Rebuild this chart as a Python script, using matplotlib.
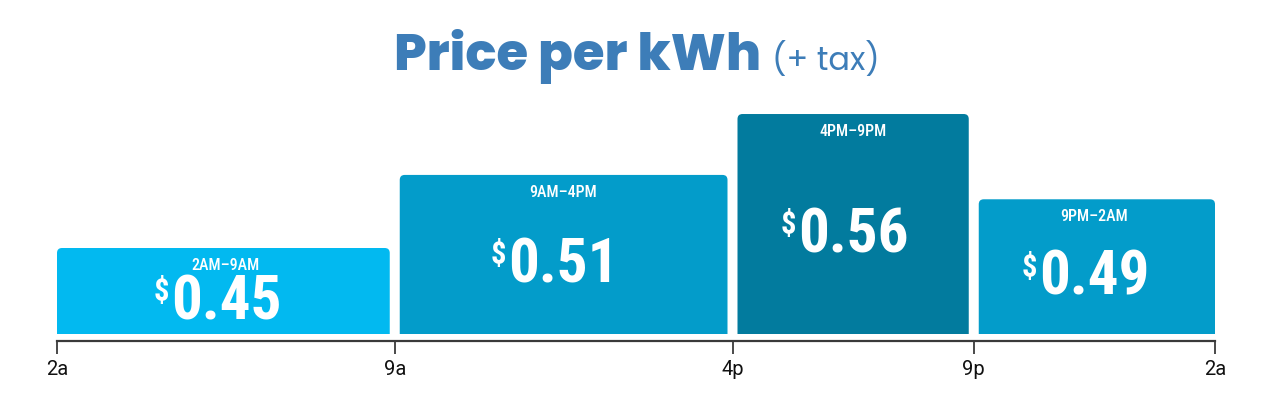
import matplotlib
matplotlib.use("Agg")
import matplotlib.pyplot as plt
from matplotlib.patches import FancyBboxPatch
from matplotlib import font_manager

# ---- data ----
starts = [2, 9, 16, 21]
ends = [9, 16, 21, 26]
prices = [0.45, 0.51, 0.56, 0.49]
period_labels = ["2AM\u20139AM", "9AM\u20134PM", "4PM\u20139PM", "9PM\u20132AM"]
bar_colors = ["#02B9F0", "#039CCA", "#027B9E", "#039CCA"]
tick_hours = [2, 9, 16, 21, 26]
tick_labels = ["2a", "9a", "4p", "9p", "2a"]
title_main = "Price per kWh"
title_sub = "(+ tax)"

W, H, DPI = 1274, 396, 100
PT = 72 / DPI  # points per pixel
names = {f.name for f in font_manager.fontManager.ttflist}


def pick(*cands):
    for c in cands:
        if c in names:
            return c
    return "DejaVu Sans"


narrow = pick("Roboto Condensed", "DejaVu Sans")
title_font = pick("Poppins", "DejaVu Sans")
tick_font = pick("Roboto", "DejaVu Sans")
TITLE_BLUE = "#3D7DB8"

fig = plt.figure(figsize=(W / DPI, H / DPI), dpi=DPI)
ax_left, ax_right = 57 / W, 1215 / W
ax_bottom_px, ax_top_px = 334, 100
ax = fig.add_axes([ax_left, (H - ax_bottom_px) / H, ax_right - ax_left,
                   (ax_bottom_px - ax_top_px) / H])
ymin = 0.45 - 86 / 1218
ymax = ymin + (ax_bottom_px - ax_top_px) / 1218
ax.set_xlim(tick_hours[0], tick_hours[-1])
ax.set_ylim(ymin, ymax)

# aspect for rounding corners
ax_w_px = (ax_right - ax_left) * W
ax_h_px = ax_bottom_px - ax_top_px
px_per_hour = ax_w_px / (tick_hours[-1] - tick_hours[0])
px_per_unit = ax_h_px / (ymax - ymin)
aspect = px_per_hour / px_per_unit
r_hours = 5 / px_per_hour
inset = 5 / px_per_hour

n = len(prices)
digit_texts = []
for i, (s, e, p, lab, c) in enumerate(zip(starts, ends, prices, period_labels, bar_colors)):
    x0 = s + (inset if i > 0 else 0)
    x1 = e - (inset if i < n - 1 else 0)
    y0 = ymin - 0.05
    patch = FancyBboxPatch((x0, y0), x1 - x0, p - y0,
                           boxstyle=f"round,pad=0,rounding_size={r_hours}",
                           mutation_aspect=aspect, facecolor=c, edgecolor="none")
    ax.add_patch(patch)
    cx = (s + e) / 2
    ax.annotate(lab, (cx, p), xytext=(0, -22 * PT), textcoords="offset points",
                ha="center", va="baseline", color="white", fontsize=11.5,
                family=narrow, fontstretch="condensed", fontweight="medium")
    mid = (p + ymin) / 2
    t = ax.annotate(f"{p:.2f}", (cx, mid), xytext=(0, -28 * PT), textcoords="offset points",
                    ha="center", va="baseline", color="white", fontsize=44,
                    family=narrow, fontstretch="condensed", fontweight="bold")
    digit_texts.append((t, cx, mid))

# axis styling
for side in ["top", "left", "right"]:
    ax.spines[side].set_visible(False)
ax.spines["bottom"].set_position(("outward", 5))
ax.spines["bottom"].set_linewidth(1.6)
ax.spines["bottom"].set_color("#3a3a3a")
ax.set_yticks([])
ax.set_xticks(tick_hours)
ax.set_xticklabels(tick_labels, fontsize=14.5, family=tick_font)
ax.tick_params(axis="x", length=9, width=1.3, color="#3a3a3a", pad=5, labelcolor="#111111")
ax.patch.set_alpha(0)

# title
t1 = fig.text(0.5, (H - 70) / H, title_main, fontsize=37, fontweight="heavy",
              family=title_font, color=TITLE_BLUE, ha="left", va="baseline")
t2 = fig.text(0.5, (H - 70) / H, title_sub, fontsize=23, fontweight="normal",
              family=title_font, color=TITLE_BLUE, ha="left", va="baseline")

fig.canvas.draw()
rend = fig.canvas.get_renderer()
w1 = t1.get_window_extent(rend).width
w2 = t2.get_window_extent(rend).width
gap = 11
x0 = (W - (w1 + gap + w2)) / 2
t1.set_x(x0 / W)
t2.set_x((x0 + w1 + gap) / W)

# superscript dollar signs, hung just left of the digits
for t, cx, mid in digit_texts:
    bb = t.get_window_extent(rend)
    half = bb.width / 2
    ax.annotate("$", (cx, mid), xytext=(-(half + 2) * PT, (-28 + 18) * PT),
                textcoords="offset points", ha="right", va="baseline", color="white",
                fontsize=22, family=narrow, fontstretch="condensed", fontweight="bold")

fig.savefig("out.png", dpi=DPI, facecolor="white")
